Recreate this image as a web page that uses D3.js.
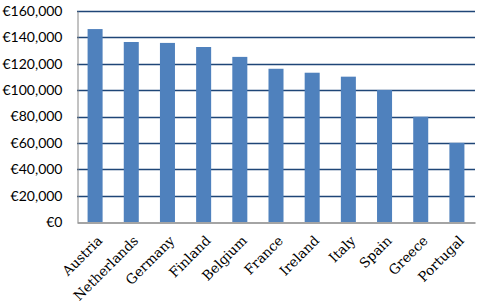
<!DOCTYPE html>
<html>
<head>
<meta charset="utf-8">
<script src="https://cdn.jsdelivr.net/npm/d3@7"></script>
<style>
  body { margin: 0; background: #fff; }
  .y-axis text { font-family: Lato, "Open Sans", sans-serif; font-size: 14px; fill: #000; }
  .x-axis text { font-family: "DejaVu Serif", "Liberation Serif", serif; font-size: 13.5px; fill: #000; }
</style>
</head>
<body>
<div id="chart"></div>
<script>
// Data
const countries = ['Austria', 'Netherlands', 'Germany', 'Finland', 'Belgium', 'France',
                   'Ireland', 'Italy', 'Spain', 'Greece', 'Portugal'];
const values = [146300, 136500, 135800, 132700, 125200, 116200, 113200, 110200, 100100, 79800, 60000];
const yTicks = [0, 20000, 40000, 60000, 80000, 100000, 120000, 140000, 160000];

const width = 482;
const height = 303;
const margin = { top: 11, right: 7, bottom: 81, left: 77 };

const svg = d3.select('#chart')
    .append('svg')
    .attr('width', width)
    .attr('height', height);

const x = d3.scaleBand()
    .domain(countries)
    .range([margin.left, width - margin.right])
    .paddingInner(0.585)
    .paddingOuter(0.2925);

const y = d3.scaleLinear()
    .domain([0, 160000])
    .range([height - margin.bottom, margin.top]);

const euro = d => '€' + d3.format(',')(d);

// gridlines
svg.append('g')
    .selectAll('line')
    .data(yTicks.filter(d => d > 0))
    .enter()
    .append('line')
    .attr('x1', margin.left)
    .attr('x2', width - margin.right)
    .attr('y1', d => Math.round(y(d)) + 0.5)
    .attr('y2', d => Math.round(y(d)) + 0.5)
    .attr('stroke', '#1f4677')
    .attr('stroke-width', 1.3);

// bars
svg.append('g')
    .selectAll('rect')
    .data(countries)
    .enter()
    .append('rect')
    .attr('x', d => x(d))
    .attr('width', x.bandwidth())
    .attr('y', (d, i) => y(values[i]))
    .attr('height', (d, i) => y(0) - y(values[i]))
    .attr('fill', '#4f81bd');

// y axis
const yAxis = svg.append('g')
    .attr('class', 'y-axis')
    .attr('transform', 'translate(' + (margin.left + 0.5) + ',0)')
    .call(d3.axisLeft(y).tickValues(yTicks).tickFormat(euro).tickSize(0).tickPadding(15));
yAxis.select('.domain').attr('stroke', '#868686');

// x axis
const xAxis = svg.append('g')
    .attr('class', 'x-axis')
    .attr('transform', 'translate(0,' + (Math.round(y(0)) + 0.5) + ')')
    .call(d3.axisBottom(x).tickSize(0).tickPadding(0));
xAxis.select('.domain').attr('stroke', '#868686').attr('stroke-width', 1.3);
xAxis.selectAll('text')
    .attr('text-anchor', 'end')
    .attr('dy', 0)
    .attr('transform', 'translate(8,19) rotate(-45)');
</script>
</body>
</html>
